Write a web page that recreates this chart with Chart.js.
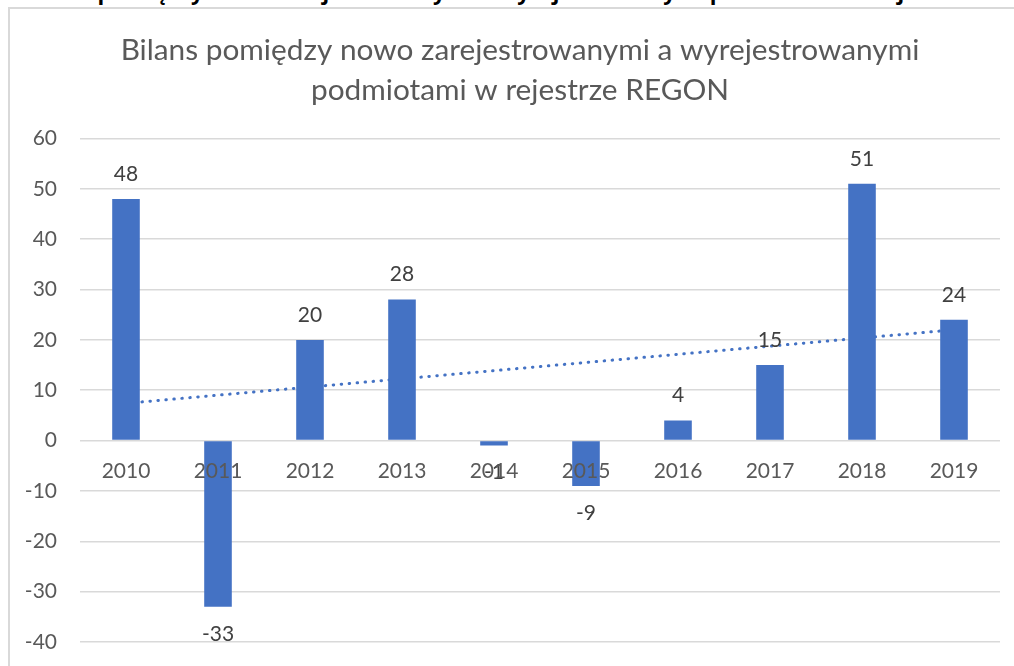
<!DOCTYPE html>
<html lang="pl">
<head>
<meta charset="utf-8">
<title>Bilans REGON</title>
<script src="https://cdn.jsdelivr.net/npm/chart.js@4.4.1/dist/chart.umd.min.js"></script>
<style>
  html, body { margin: 0; padding: 0; background: #fff; overflow: hidden; }
  #page { position: relative; width: 1014px; height: 666px; overflow: hidden; }
  /* heading of the page above the chart, cut off by the top edge: only the descenders show */
  #caption { position: absolute; left: 25px; top: -21px; font: bold 22px 'Open Sans', sans-serif; line-height: 24px; color: #000; white-space: nowrap; }
  #frame { position: absolute; left: 8px; top: 7px; width: 1100px; height: 800px; border: 2px solid #d9d9d9; box-sizing: border-box; }
  /* the chart frame runs past the right edge of the window, so the canvas does too */
  #wrap { position: absolute; left: 0; top: 0; width: 1040px; height: 666px; }
</style>
</head>
<body>
<div id="page">
  <div id="caption">Bilans pomiędzy nowo zarejestrowanymi a wyrejestrowanymi podmiotami w rejestrze REGON</div>
  <div id="frame"></div>
  <div id="wrap"><canvas id="chart"></canvas></div>
</div>
<script>
const years = ['2010', '2011', '2012', '2013', '2014', '2015', '2016', '2017', '2018', '2019'];
const balance = [48, -33, 20, 28, -1, -9, 4, 15, 51, 24];
// trend line: start (2010) and end (2019), gaps between
const trend = [7.4, null, null, null, null, null, null, null, null, 22.0];
const yTicks = { min: -40, max: 60, step: 10 };

const FONT = 'Lato';
const BLUE = '#4472C4';

// value labels above/below bars
const barLabels = {
  id: 'barLabels',
  afterDatasetsDraw(chart) {
    const meta = chart.getDatasetMeta(0);
    const ctx = chart.ctx;
    ctx.save();
    ctx.font = `21px ${FONT}`;
    ctx.fillStyle = '#404040';
    ctx.textAlign = 'center';
    ctx.textBaseline = 'middle';
    meta.data.forEach((bar, i) => {
      const v = balance[i];
      const y = v >= 0 ? bar.y - 25 : bar.y + 27;
      ctx.fillText(String(v), bar.x, y);
    });
    ctx.restore();
  }
};

new Chart(document.getElementById('chart'), {
  data: {
    labels: years,
    datasets: [
      {
        type: 'bar',
        data: balance,
        backgroundColor: BLUE,
        borderWidth: 0,
        barPercentage: 0.3,
        categoryPercentage: 1.0,
        order: 1,
      },
      {
        type: 'line',
        data: trend,
        spanGaps: true,
        borderColor: BLUE,
        borderWidth: 3,
        borderDash: [0.5, 7.5],
        borderCapStyle: 'round',
        pointRadius: 0,
        fill: false,
        order: 2,
      },
    ],
  },
  options: {
    responsive: true,
    maintainAspectRatio: false,
    animation: false,
    layout: { padding: { left: 0, right: 0, top: 0, bottom: 24 } },
    plugins: {
      legend: { display: false },
      tooltip: { enabled: false },
      title: {
        display: true,
        text: ['Bilans pomiędzy nowo zarejestrowanymi a wyrejestrowanymi', 'podmiotami w rejestrze REGON'],
        color: '#595959',
        font: { family: FONT, size: 29.8, weight: 'normal', lineHeight: 1.35 },
        padding: { top: 30, bottom: 28 },
      },
    },
    scales: {
      x: {
        position: { y: 0 },
        grid: { display: false },
        border: { display: false },
        ticks: { z: 1, color: '#595959', font: { family: FONT, size: 21 }, padding: 10, maxRotation: 0 },
      },
      y: {
        min: yTicks.min,
        max: yTicks.max,
        afterFit: (s) => { s.width = 80; },
        // invisible tick marks keep the labels off the plot without padding the axis ends
        grid: { color: '#d9d9d9', lineWidth: 1.5, drawTicks: true, tickLength: 23, tickColor: 'rgba(0,0,0,0)' },
        border: { display: false },
        ticks: { stepSize: yTicks.step, color: '#595959', font: { family: FONT, size: 21 }, padding: 0 },
      },
      // empty spacer on the right so the title centres over the whole frame
      spacer: {
        type: 'linear',
        position: 'right',
        afterFit: (s) => { s.width = 40; },
        grid: { display: false },
        border: { display: false },
        ticks: { display: false },
      },
    },
  },
  plugins: [barLabels],
});
</script>
</body>
</html>
